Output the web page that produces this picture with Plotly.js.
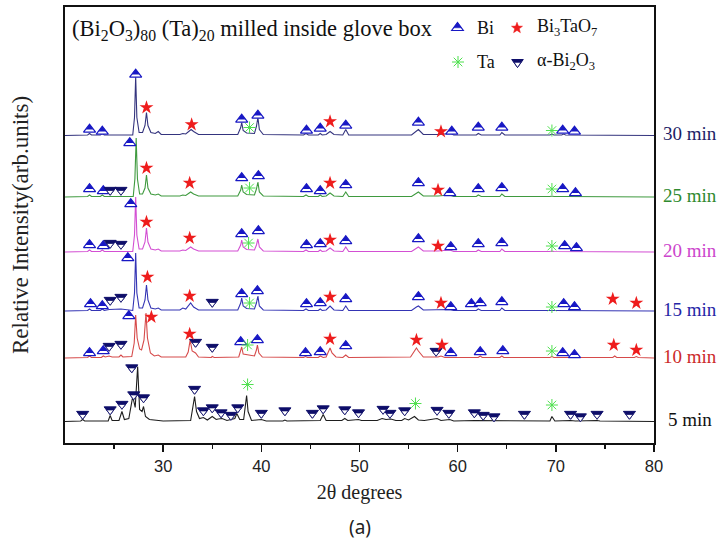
<!DOCTYPE html>
<html><head><meta charset="utf-8">
<script src="https://cdn.plot.ly/plotly-3.0.1.min.js"></script>
<style>html,body{margin:0;padding:0;background:#fff}#chart{width:722px;height:551px}</style>
</head><body><div id="chart"></div>
<script>
// ---------------- DATA ----------------
const seriesNames = ['30 min', '25 min', '20 min', '15 min', '10 min', '5 min'];
// vertical offset (stacking) of each pattern, in intensity units
const baselines = [307.5, 246, 191, 132, 85, 21.5];

// XRD patterns: [2theta, relative intensity above the pattern's own baseline]
const pattern30 = [[20,0],[22.3,0.5],[22.5,2],[22.7,0.5],[23.6,0.5],[23.8,2],[24.0,0.5],[26.9,0.5],[27.08,18],[27.2,59],[27.32,18],[27.55,3],[27.9,3],[28.15,10],[28.3,23],[28.45,10],[28.75,3],[29.2,2],[29.5,4],[29.8,1],[31.7,1],[32.0,2],[32.3,1.5],[32.6,4],[32.85,6],[33.1,4],[33.6,1],[37.6,1],[37.9,8],[38.0,13],[38.15,5],[38.5,2.5],[39.3,2],[39.5,9],[39.65,18],[39.8,6],[40.2,1],[44.3,0.5],[44.55,2],[44.8,0.5],[45.8,0.5],[46.0,2],[46.2,0.5],[46.6,1],[47.0,4],[47.4,1],[48.3,0.5],[48.6,6],[48.9,0.5],[55.3,0.5],[55.8,5],[56.0,6],[56.5,1],[58.0,1],[59.3,2],[59.6,0.5],[61.9,0.5],[62.1,2],[62.4,0.5],[64.3,0.5],[64.5,3],[64.8,0.5],[69.4,0.5],[69.6,1.5],[69.8,0.5],[70.6,0.5],[70.8,1.5],[71.0,0.5],[80,0]];
const pattern25 = [[20,0],[22.3,0.5],[22.5,2],[22.7,0.5],[23.6,0.5],[23.8,2],[24.0,0.5],[26.95,0.5],[27.12,18],[27.25,59],[27.38,18],[27.6,3],[27.9,3],[28.15,9],[28.3,22],[28.45,9],[28.75,3],[29.2,2],[29.5,3],[29.8,1],[31.7,1],[32.0,2],[32.3,1.5],[32.6,3.5],[32.8,5],[33.1,3],[33.6,1],[37.6,1],[37.9,7],[38.0,12],[38.15,5],[38.5,2.5],[39.3,2],[39.5,8],[39.65,15],[39.8,5],[40.2,1],[44.3,0.5],[44.55,2],[44.8,0.5],[45.8,0.5],[46.0,2],[46.2,0.5],[46.6,1],[47.0,4],[47.4,1],[48.3,0.5],[48.6,5],[48.9,0.5],[55.3,0.5],[55.8,4],[56.0,5],[56.5,1],[58.0,1],[59.2,2],[59.6,0.5],[61.9,0.5],[62.1,2],[62.4,0.5],[64.3,0.5],[64.5,3],[64.8,0.5],[69.4,0.5],[69.6,1],[69.8,0.5],[70.6,0.5],[70.8,1],[71.0,0.5],[80,0]];
const pattern20 = [[20,0],[22.3,0.5],[22.5,2],[22.7,0.5],[23.6,0.5],[23.8,2],[24.0,0.5],[26.9,0.5],[27.08,17],[27.2,55],[27.32,17],[27.55,3],[27.9,3],[28.15,10],[28.3,24],[28.45,10],[28.75,3],[29.2,2],[29.5,3],[29.8,1],[31.7,1],[32.0,2],[32.3,1.5],[32.6,3.5],[32.8,5],[33.1,3],[33.6,1],[37.6,1],[37.9,7],[38.0,12],[38.15,5],[38.5,2.5],[39.3,2],[39.5,7],[39.65,13],[39.8,5],[40.2,1],[44.3,0.5],[44.55,2],[44.8,0.5],[45.8,0.5],[46.0,2],[46.2,0.5],[46.6,1],[47.0,4],[47.4,1],[48.3,0.5],[48.6,5],[48.9,0.5],[55.3,0.5],[55.8,4],[56.0,5],[56.5,1],[58.0,1],[59.2,2],[59.6,0.5],[61.9,0.5],[62.1,2],[62.4,0.5],[64.3,0.5],[64.5,3],[64.8,0.5],[69.4,0.5],[69.6,1],[69.8,0.5],[80,0]];
const pattern15 = [[20,0],[22.3,0.5],[22.5,2],[22.7,0.5],[23.6,0.5],[23.8,2],[24.0,0.5],[24.5,1.5],[25.7,2],[26.9,0.5],[27.08,18],[27.2,58],[27.32,18],[27.55,3],[27.9,3],[28.15,11],[28.3,26],[28.45,11],[28.75,3],[29.2,2],[29.5,3],[29.8,1],[31.7,1],[32.0,3],[32.3,2],[32.6,5],[32.8,8],[33.1,4],[33.6,1],[35.0,1],[37.6,1],[37.9,8],[38.0,13],[38.15,5],[38.5,2.5],[39.3,2],[39.5,8],[39.65,15],[39.8,5],[40.2,1],[44.3,0.5],[44.55,2],[44.8,0.5],[45.8,0.5],[46.0,2],[46.2,0.5],[46.6,1],[47.0,5],[47.4,1],[48.3,0.5],[48.6,5],[48.9,0.5],[55.3,0.5],[55.8,4],[56.0,5],[56.5,1],[58.0,1],[59.2,1.5],[59.6,0.5],[61.9,0.5],[62.1,2],[62.4,0.5],[64.3,0.5],[64.5,3],[64.8,0.5],[69.4,0.5],[69.6,1],[69.8,0.5],[80,0]];
const pattern10 = [[20,0],[22.3,0.5],[22.5,2],[22.7,0.5],[23.7,0.5],[23.9,2],[24.1,1],[24.5,2],[24.8,1],[25.5,1],[25.7,3],[25.9,1],[26.8,1.5],[27.05,15],[27.2,43],[27.35,20],[27.6,9],[27.8,8],[28.05,18],[28.25,45],[28.4,20],[28.7,5],[29.1,2],[29.5,3],[29.8,1],[32.3,1],[32.55,6],[32.75,18],[32.95,7],[33.3,5],[33.6,1],[34.9,0.5],[35.0,1.5],[35.2,0.5],[37.7,1],[37.9,8],[38.0,11],[38.15,4],[38.6,3],[39.3,2],[39.5,8],[39.6,13],[39.75,5],[40.1,1],[44.3,0.5],[44.5,1.5],[44.7,0.5],[45.8,0.5],[46.0,2],[46.3,0.5],[46.6,1],[46.9,7],[47.0,10],[47.2,5],[47.6,1],[48.3,0.5],[48.6,3],[48.9,0.5],[55.2,1],[55.6,7],[55.8,10],[56.0,7],[56.5,1],[58.0,1],[58.3,2],[58.7,0.5],[62.1,0.5],[62.3,2],[62.5,0.5],[64.3,0.5],[64.5,2],[64.7,0.5],[69.4,0.5],[69.6,1.5],[69.8,0.5],[75.8,0.5],[76.0,2],[76.2,0.5],[78.0,0.5],[78.2,1.5],[78.4,0.5],[80,0]];
const pattern5 = [[20,0],[21.6,0.5],[21.8,2],[22.0,0.5],[24.4,0.5],[24.6,6],[24.8,1],[25.5,1],[25.8,10],[26.05,2],[26.5,3],[26.9,25],[27.15,14],[27.4,55],[27.6,12],[27.85,10],[28.0,15],[28.2,5],[28.6,2],[29.5,1],[30.0,0.5],[32.8,1],[33.05,14],[33.2,25],[33.4,10],[33.7,3],[34.1,4],[34.5,1.5],[35.0,5],[35.4,2],[35.6,2.5],[36.0,3],[36.5,1],[36.9,2],[37.3,3],[37.5,8],[37.8,2],[38.2,2],[38.4,15],[38.5,26],[38.65,10],[39.0,1],[40.0,2],[40.5,0.5],[42.2,0.5],[42.4,1.5],[42.6,0.5],[45.0,0.5],[45.2,1],[45.5,0.5],[46.0,1],[46.3,7],[46.6,1],[48.2,1],[48.5,3],[48.8,1],[49.9,2],[50.2,1],[51.8,1],[52.3,3],[52.7,2],[53.2,2.5],[53.7,1],[54.3,1],[54.6,3],[55.0,1.5],[55.6,5],[56.0,1.5],[56.6,1],[57.9,3],[58.3,1],[59.2,2],[59.6,0.5],[61.7,1],[62.6,1],[63.5,0.5],[69.4,0.5],[69.6,5],[69.9,0.5],[71.5,1],[72.0,0.5],[74.2,1],[74.5,0.5],[80,0]];
const patterns = [pattern30, pattern25, pattern20, pattern15, pattern10, pattern5];

// Phase identification marks: [2theta, height of mark above the pattern baseline]
const bi30 = [[22.5,7],[23.8,5],[27.2,62],[38.0,17],[39.65,21],[44.6,6],[46.0,8],[48.6,11],[56.0,14],[59.4,5],[62.1,9],[64.5,9],[70.7,6],[71.9,5]];
const bi25 = [[22.5,9],[23.9,7],[26.6,55],[38.0,20],[39.7,22],[44.6,9],[46.0,7],[48.6,13],[56.0,15],[59.2,5],[62.1,9],[64.5,10],[70.7,9],[72.0,5]];
const bi20 = [[22.5,8],[23.9,7],[26.7,49],[38.0,19],[39.7,22],[44.6,8],[46.0,9],[48.6,12],[56.0,14],[59.3,6],[62.1,9],[64.5,10],[70.9,7],[72.1,5]];
const bi15 = [[22.6,8],[23.8,6],[26.4,54],[38.0,18],[39.6,21],[44.6,8],[46.0,9],[48.6,13],[56.0,15],[59.3,5],[61.4,8],[62.3,9],[64.5,10],[70.8,8],[71.9,5]];
const bi10 = [[22.5,6],[23.9,8],[26.5,43],[37.9,17],[39.6,19],[44.5,6],[46.0,7],[48.6,13],[59.3,6],[62.3,7],[64.6,8],[70.7,6],[71.9,4]];
const bi5 = [];
const bi3TaO7_30 = [[28.3,28],[32.9,11],[47.0,14],[58.3,4]];
const bi3TaO7_25 = [[28.3,29],[32.7,14],[47.0,14],[58.0,7]];
const bi3TaO7_20 = [[28.3,30],[32.7,14],[47.0,12],[58.0,6]];
const bi3TaO7_15 = [[28.4,34],[32.7,15],[47.0,14],[58.3,8],[75.8,12],[78.2,8]];
const bi3TaO7_10 = [[28.8,41],[32.7,24],[47.0,19],[55.8,18],[58.4,13],[75.9,13],[78.2,8]];
const bi3TaO7_5 = [];
const ta30 = [[38.8,8],[69.6,5]];
const ta25 = [[38.8,9],[69.6,8]];
const ta20 = [[38.7,9],[69.6,6]];
const ta15 = [[38.8,8],[69.6,4]];
const ta10 = [[38.6,13],[69.6,7]];
const ta5 = [[38.6,37],[55.7,18],[69.6,16.5]];
const alpha30 = [];
const alpha25 = [[24.6,6],[25.7,6]];
const alpha20 = [[24.6,8],[25.7,7]];
const alpha15 = [[24.6,10],[25.7,13],[35.0,8]];
const alpha10 = [[24.5,11],[25.7,13],[33.3,15],[35.0,10],[57.8,6]];
const alpha5 = [[21.8,6.5],[24.6,11],[25.8,16.5],[26.8,53],[27.0,26],[28.0,23],[33.2,31.5],[34.1,10],[35.0,13],[35.9,8],[36.9,5.5],[37.6,13],[40.0,7.5],[42.4,10],[45.2,7.5],[46.3,12],[48.5,11],[49.9,8],[52.4,11.5],[53.1,7.5],[54.6,10],[57.9,10.5],[59.1,7.5],[61.7,8],[62.6,5.5],[63.7,4],[66.8,6.5],[71.5,6.5],[72.5,4],[74.2,6.5],[77.5,6.5]];
const biMarks = [bi30, bi25, bi20, bi15, bi10, bi5];
const starMarks = [bi3TaO7_30, bi3TaO7_25, bi3TaO7_20, bi3TaO7_15, bi3TaO7_10, bi3TaO7_5];
const taMarks = [ta30, ta25, ta20, ta15, ta10, ta5];
const alphaMarks = [alpha30, alpha25, alpha20, alpha15, alpha10, alpha5];
const xTicks = [30, 40, 50, 60, 70, 80];
const xMinorTicks = [25, 35, 45, 55, 65, 75];

// ---------------- STYLE ----------------
const lineColors = ['#34347e', '#3f9a3f', '#d34fd3', '#3434b4', '#d64a4a', '#1e1e1e'];
const labelColors = ['#1d1d66', '#2f8a2f', '#cc45cc', '#2626a6', '#cc2a2a', '#111111'];
const BI = '#1818c4', NAVY = '#0e0e6a', RED = '#ee1c1c', GREEN = '#4fe04f';
const SERIF = '"Liberation Serif", "Times New Roman", serif';
const L = 65, R = 654, T = 7, B = 443;   // plot box in pixels
const px = v => (v - L) / (R - L);
const py = v => (B - v) / (B - T);

const traces = [];
patterns.forEach((p, i) => {
  traces.push({type: 'scatter', mode: 'lines', x: p.map(d => d[0]), y: p.map(d => baselines[i] + d[1]),
    line: {color: lineColors[i], width: 1.1}, hoverinfo: 'skip', showlegend: false, name: seriesNames[i]});
});
function collect(sets, shift) {
  const x = [], y = [];
  sets.forEach((s, i) => s.forEach(d => { x.push(d[0]); y.push(baselines[i] + d[1] + (shift || 0)); }));
  return {x, y};
}
const biO = collect(biMarks, -1), biI = collect(biMarks, 0.75);
traces.push({type: 'scatter', mode: 'markers', x: biO.x, y: biO.y, hoverinfo: 'skip', showlegend: false,
  marker: {symbol: 'triangle-up', size: 10.5, color: '#ffffff', line: {color: BI, width: 1.2}}});
traces.push({type: 'scatter', mode: 'markers', x: biI.x, y: biI.y, hoverinfo: 'skip', showlegend: false,
  marker: {symbol: 'triangle-up', size: 7, color: BI, line: {width: 0}}});
const alO = collect(alphaMarks, 1), alI = collect(alphaMarks, -1);
traces.push({type: 'scatter', mode: 'markers', x: alO.x, y: alO.y, hoverinfo: 'skip', showlegend: false,
  marker: {symbol: 'triangle-down', size: 10.5, color: NAVY, line: {color: NAVY, width: 1}}});
traces.push({type: 'scatter', mode: 'markers', x: alI.x, y: alI.y, hoverinfo: 'skip', showlegend: false,
  marker: {symbol: 'triangle-down', size: 6.3, color: '#ffffff', line: {color: NAVY, width: 0.8}}});
const st = collect(starMarks, 0);
traces.push({type: 'scatter', mode: 'markers', x: st.x, y: st.y, hoverinfo: 'skip', showlegend: false,
  marker: {symbol: 'star', size: 10.5, color: RED, line: {width: 0}}});
const ta = collect(taMarks, 0);
traces.push({type: 'scatter', mode: 'markers', x: ta.x, y: ta.y, hoverinfo: 'skip', showlegend: false,
  marker: {symbol: 'asterisk', size: 10, color: GREEN, line: {color: GREEN, width: 1}}});

// legend built from layout shapes (pixel-sized symbols) and text
function sym(path, cx, cy, fill, line, lw) {
  return {type: 'path', xref: 'paper', yref: 'paper', xsizemode: 'pixel', ysizemode: 'pixel',
    xanchor: px(cx), yanchor: py(cy), path: path, fillcolor: fill, line: {color: line, width: lw}, layer: 'above'};
}
function starPath(R1, R2) {
  let d = '';
  for (let k = 0; k < 10; k++) {
    const r = k % 2 ? R2 : R1, a = Math.PI / 2 + k * Math.PI / 5;
    d += (k ? 'L' : 'M') + (r * Math.cos(a)).toFixed(2) + ',' + (r * Math.sin(a)).toFixed(2);
  }
  return d + 'Z';
}
const shapes = [
  sym('M-5.8,-2.5L5.8,-2.5L0,5.5Z', 457.5, 28, '#ffffff', BI, 1.2),
  sym('M-3.7,0.2L3.7,0.2L0,5.5Z', 457.5, 28, BI, BI, 0.5),
  sym(starPath(5.8, 2.4), 517, 28, RED, RED, 0.5),
  sym('M-6,0L6,0M0,-6L0,6M-4.3,-4.3L4.3,4.3M-4.3,4.3L4.3,-4.3', 458, 62, 'rgba(0,0,0,0)', GREEN, 1),
  sym('M-5.8,2.5L5.8,2.5L0,-5.5Z', 517.5, 62, NAVY, NAVY, 1),
  sym('M-3.5,-0.3L3.5,-0.3L0,-5.5Z', 517.5, 62, '#ffffff', NAVY, 0.8)
];
const legFont = {family: SERIF, size: 18, color: '#111'};
const annotations = [
  {xref: 'paper', yref: 'paper', x: px(475), y: py(28), xanchor: 'left', yanchor: 'middle', text: 'Bi', showarrow: false, font: legFont},
  {xref: 'paper', yref: 'paper', x: px(535), y: py(28), xanchor: 'left', yanchor: 'middle', text: 'Bi<sub>3</sub>TaO<sub>7</sub>', showarrow: false, font: legFont},
  {xref: 'paper', yref: 'paper', x: px(475), y: py(62), xanchor: 'left', yanchor: 'middle', text: 'Ta', showarrow: false, font: legFont},
  {xref: 'paper', yref: 'paper', x: px(535), y: py(62), xanchor: 'left', yanchor: 'middle', text: 'α-Bi<sub>2</sub>O<sub>3</sub>', showarrow: false, font: legFont},
  {xref: 'paper', yref: 'paper', x: px(360), y: py(527), xanchor: 'center', yanchor: 'middle', text: '(a)', showarrow: false,
    font: {family: '"Noto Sans", "Open Sans", sans-serif', size: 19, color: '#222'}},
  {xref: 'paper', yref: 'paper', x: px(20), y: 0.5, xanchor: 'center', yanchor: 'middle', textangle: -90,
    text: 'Relative Intensity(arb.units)', showarrow: false, font: {family: SERIF, size: 23, color: '#222'}}
];
seriesNames.forEach((n, i) => {
  annotations.push({xref: 'paper', yref: 'y', x: px(i === 5 ? 666 : 661), y: baselines[i] + 2, xanchor: 'left', yanchor: 'middle',
    text: n, showarrow: false, font: {family: SERIF, size: 19, color: labelColors[i]}});
});

const layout = {
  width: 722, height: 551,
  margin: {l: L, r: 722 - R, t: T, b: 551 - B, pad: 0},
  paper_bgcolor: '#ffffff', plot_bgcolor: '#ffffff',
  showlegend: false,
  title: {text: '(Bi<sub>2</sub>O<sub>3</sub>)<sub>80</sub> (Ta)<sub>20</sub> milled inside glove box',
    xref: 'container', yref: 'container', x: 72 / 722, xanchor: 'left', y: 1 - 28 / 551, yanchor: 'middle',
    font: {family: SERIF, size: 22.5, color: '#111'}},
  xaxis: {range: [20, 80], tickvals: xTicks, ticktext: xTicks.map(String), ticks: 'outside', ticklen: 7, tickwidth: 1.5,
    tickcolor: '#111', showline: true, linewidth: 2, linecolor: '#111', mirror: true, showgrid: false, zeroline: false,
    tickfont: {family: '"Liberation Sans", Arial, sans-serif', size: 16.5, color: '#222'},
    minor: {tickvals: xMinorTicks, ticks: 'outside', ticklen: 4, tickwidth: 1.2, tickcolor: '#111', showgrid: false},
    title: {text: '2θ degrees', font: {family: SERIF, size: 20, color: '#222'}, standoff: 11}},
  yaxis: {range: [0, 436], showticklabels: false, ticks: '', showline: true, linewidth: 2, linecolor: '#111',
    mirror: true, showgrid: false, zeroline: false},
  shapes: shapes, annotations: annotations
};
Plotly.newPlot('chart', traces, layout, {staticPlot: true, displayModeBar: false});
</script></body></html>
